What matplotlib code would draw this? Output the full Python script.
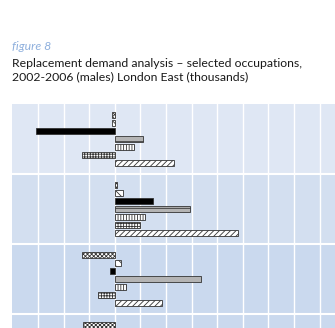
import numpy as np
import matplotlib.pyplot as plt

# values in gridline units (thousands), one list per occupation group
groups = ["group 1", "group 2", "group 3", "group 4"]
g1 = [-0.1, -0.1, -3.08, 1.1, 0.74, -1.3, 2.3]
g2 = [0.1, 0.3, 1.5, 2.93, 1.17, 1.0, 4.8]
g3 = [-1.27, 0.25, -0.2, 3.35, 0.44, -0.65, 1.85]
g4 = [-1.24, np.nan, np.nan, np.nan, np.nan, np.nan, np.nan]
data = np.array([g1, g2, g3, g4])

hatches = ["xxxxxxxx", "\\\\\\\\", None, "-", "||||||", "++++++", "//////"]
faces = ["white", "white", "black", "#b4b4b4", "white", "white", "white"]
band_cols = ["#dfe7f4", "#d3dff0", "#cad9ee", "#cad9ee"]

plt.rcParams["hatch.linewidth"] = 0.6
plt.rcParams["font.family"] = ["Lato", "DejaVu Sans"]

fig = plt.figure(figsize=(3.35, 3.28), dpi=100)
fig.text(12 / 335, 1 - 47 / 328, "figure 8", color="#8fb0dd", style="italic",
         fontsize=8.8, va="center")
fig.text(12 / 335, 1 - 70 / 328,
         "Replacement demand analysis \u2013 selected occupations,\n"
         "2002-2006 (males) London East (thousands)",
         color="#1a1a1a", fontsize=8.8, va="center", linespacing=1.2)

top = 1 - 104 / 328
h = 280 / 328
ax = fig.add_axes([12.5 / 335, top - h, 1 - 12.5 / 335, h])

for i, c in enumerate(band_cols):
    ax.axhspan(i, i + 1, color=c, lw=0, zorder=0)
for x in range(-3, 9):
    ax.axvline(x, color="white", lw=1.0, zorder=1)
for i in range(1, len(groups)):
    ax.axhline(i, color="white", lw=1.5, zorder=1)

step = 0.116
bh = 0.085
for k in range(7):
    ys = np.arange(len(groups)) + 0.5 + (k - 3) * step
    ax.barh(ys, data[:, k], height=bh, left=0, color=faces[k],
            edgecolor="#333333", linewidth=0.6, hatch=hatches[k], zorder=3)

ax.set_xlim(-4, 8.6)
ax.set_ylim(len(groups), 0)
ax.set_xticks([])
ax.set_yticks([])
for s in ax.spines.values():
    s.set_visible(False)

fig.savefig("out.png", dpi=100)
